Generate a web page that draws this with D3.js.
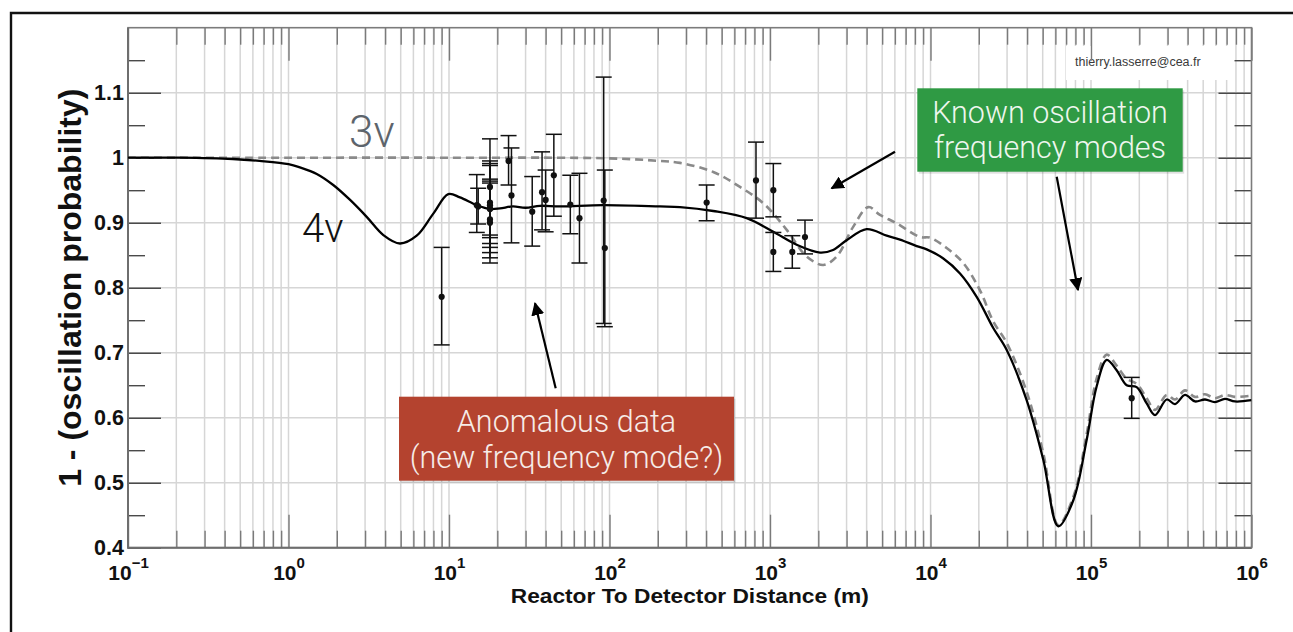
<!DOCTYPE html>
<html><head><meta charset="utf-8">
<script src="https://cdn.jsdelivr.net/npm/d3@7"></script>
<style>
html,body{margin:0;padding:0;background:#fff;}
svg{display:block;}
</style></head><body>
<svg id="chart" width="1293" height="632"></svg>
<script>
// ---------------- data ----------------
const curve4Distance = [0.1,0.21,0.45,0.66,1.0,1.18,1.5,1.9,2.42,3.07,3.9,4.95,6.29,7.98,9.9,11.7,14.9,18.0,20.8,25.0,30,36.9,49.2,91,206,275,443,716,1049,1467,2049,2470,3004,4000,5333,6457,8200,9469,12020,15270,19400,24600,29850,39720,50470,62540,77600,94000,108400,125300,144500,166800,192600,222300,250500,296300,333600,385300,444600,513000,591600,683400,788700,1000000];
const curve4Value    = [1.000,1.000,0.998,0.995,0.990,0.985,0.975,0.958,0.935,0.909,0.881,0.868,0.880,0.914,0.944,0.939,0.927,0.921,0.922,0.925,0.923,0.926,0.925,0.927,0.925,0.924,0.918,0.907,0.886,0.866,0.854,0.858,0.873,0.890,0.880,0.874,0.864,0.859,0.845,0.822,0.786,0.738,0.704,0.627,0.535,0.433,0.473,0.566,0.648,0.689,0.673,0.650,0.647,0.622,0.604,0.628,0.621,0.635,0.625,0.628,0.624,0.629,0.625,0.627];
const curve3Distance = [0.1,1,10,100,206,275,443,650,908,1271,1693,2148,2604,3304,4098,4845,6153,8605,9930,12610,16000,20330,24600,29850,39720,50470,62540,77600,94000,108400,125300,144500,166800,192600,222300,250500,296300,333600,385300,444600,513000,591600,683400,788700,1000000];
const curve3Value    = [1.000,1.000,1.000,0.999,0.995,0.992,0.978,0.955,0.930,0.889,0.848,0.835,0.848,0.894,0.924,0.912,0.899,0.878,0.877,0.861,0.838,0.796,0.748,0.715,0.640,0.545,0.435,0.478,0.575,0.660,0.697,0.680,0.660,0.652,0.630,0.612,0.635,0.628,0.642,0.632,0.636,0.630,0.635,0.632,0.634];

const dataDistance = [9.0,14.9,15.2,18.0,18.0,18.0,18.0,18.0,18.0,18.0,23.5,24.5,33,38,40,45,57,65,92,93.5,403,818,1049,1049,1377,1652,179300];
const dataValue    = [0.786,0.927,0.925,0.955,0.931,0.927,0.921,0.922,0.905,0.900,0.995,0.942,0.917,0.947,0.935,0.973,0.928,0.907,0.934,0.861,0.931,0.965,0.950,0.855,0.855,0.878,0.630];
const dataHigh     = [0.862,0.974,0.953,1.029,0.995,0.991,0.988,0.967,0.964,0.961,1.034,1.015,0.971,1.009,0.981,1.036,0.973,0.976,1.124,0.981,0.958,1.024,0.991,0.885,0.880,0.904,0.662];
const dataLow      = [0.712,0.885,0.898,0.881,0.868,0.862,0.854,0.877,0.846,0.838,0.958,0.869,0.864,0.889,0.886,0.910,0.883,0.838,0.745,0.740,0.903,0.907,0.909,0.825,0.830,0.852,0.599];

const yMajorTicks = [0.4,0.5,0.6,0.7,0.8,0.9,1,1.1];
const yMinorTicks = [0.45,0.55,0.65,0.75,0.85,0.95,1.05,1.15];
const yTickLabels = ["0.4","0.5","0.6","0.7","0.8","0.9","1","1.1"];
const xMajorTicks = [0.1,1,10,100,1000,10000,100000,1000000];
const xTickBase = "10";
const xTickExponents = ["\u22121","0","1","2","3","4","5","6"];

const xTitle = "Reactor To Detector Distance (m)";
const yTitle = "1 - (oscillation probability)";

// ---------------- chart ----------------
const svg = d3.select("#chart");
const W = 1293, H = 632;
const pL = 128, pR = 1251.5, pT = 27.7, pB = 547.7;
const x = d3.scaleLog().domain([0.1, 1e6]).range([pL, pR]);
const y = d3.scaleLinear().domain([0.4, 1.2]).range([pB, pT]);

svg.append("rect").attr("width", W).attr("height", H).attr("fill", "#fff");

// outer slide frame
svg.append("path").attr("d", `M11,${H} L11,13 L${W},13`).attr("fill", "none")
  .attr("stroke", "#111").attr("stroke-width", 2.4);

const allX = x.ticks();
const xMinor = allX.filter(d => !xMajorTicks.some(m => Math.abs(m - d) / m < 1e-9));

// grid
const grid = svg.append("g").attr("stroke", "#d6d6d6").attr("stroke-width", 1.5);
grid.selectAll("line.v").data(allX.filter(d => d > 0.1 * 1.0001 && d < 1e6 * 0.9999)).join("line").attr("class", "v")
  .attr("x1", d => x(d)).attr("x2", d => x(d)).attr("y1", pT).attr("y2", pB);
grid.selectAll("line.h").data(yMajorTicks.filter(d => d > 0.4)).join("line").attr("class", "h")
  .attr("x1", pL).attr("x2", pR).attr("y1", d => y(d)).attr("y2", d => y(d));

// email label box
svg.append("rect").attr("x", 1066).attr("y", 46).attr("width", 166).attr("height", 34).attr("fill", "#fff");
svg.append("text").attr("x", 1075).attr("y", 65.5).text("thierry.lasserre@cea.fr")
  .attr("font-family", "'Liberation Sans', Arial, sans-serif").attr("font-size", 12.5).attr("fill", "#3a3a3a");

// axes
function clean(g, color, width) {
  g.select(".domain").remove();
  g.selectAll(".tick line").attr("stroke", color).attr("stroke-width", width);
}
const xTickColor = "#7a7a7a", yTickColor = "#4a4a4a";
svg.append("g").attr("transform", `translate(0,${pB})`)
  .call(d3.axisBottom(x).tickValues(xMinor).tickSize(-17).tickSizeOuter(0).tickFormat(""))
  .call(g => clean(g, xTickColor, 1.4));
svg.append("g").attr("transform", `translate(0,${pT})`)
  .call(d3.axisTop(x).tickValues(xMinor).tickSize(-17).tickSizeOuter(0).tickFormat(""))
  .call(g => clean(g, xTickColor, 1.4));
svg.append("g").attr("transform", `translate(0,${pT})`)
  .call(d3.axisTop(x).tickValues(xMajorTicks).tickSize(-33).tickSizeOuter(0).tickFormat(""))
  .call(g => clean(g, xTickColor, 1.4));
const xMajAxis = svg.append("g").attr("transform", `translate(0,${pB})`)
  .call(d3.axisBottom(x).tickValues(xMajorTicks).tickSize(-33).tickSizeOuter(0).tickFormat(() => xTickBase))
  .call(g => clean(g, xTickColor, 1.4));
xMajAxis.selectAll(".tick text")
  .attr("y", 32).attr("dy", 0).attr("fill", "#111")
  .attr("font-family", "'Liberation Sans', Arial, sans-serif").attr("font-weight", "bold").attr("font-size", 21)
  .each(function(d, i) {
    d3.select(this).append("tspan").attr("dy", -12).attr("font-size", 15).text(xTickExponents[i]);
  });

svg.append("g").attr("transform", `translate(${pL},0)`)
  .call(d3.axisLeft(y).tickValues(yMinorTicks).tickSize(-17).tickSizeOuter(0).tickFormat(""))
  .call(g => clean(g, yTickColor, 1.4));
svg.append("g").attr("transform", `translate(${pR},0)`)
  .call(d3.axisRight(y).tickValues(yMinorTicks).tickSize(-17).tickSizeOuter(0).tickFormat(""))
  .call(g => clean(g, yTickColor, 1.4));
svg.append("g").attr("transform", `translate(${pR},0)`)
  .call(d3.axisRight(y).tickValues(yMajorTicks).tickSize(-33).tickSizeOuter(0).tickFormat(""))
  .call(g => clean(g, yTickColor, 1.4));
const yMajAxis = svg.append("g").attr("transform", `translate(${pL},0)`)
  .call(d3.axisLeft(y).tickValues(yMajorTicks).tickSize(-33).tickSizeOuter(0).tickPadding(4)
    .tickFormat((d, i) => yTickLabels[i]))
  .call(g => clean(g, yTickColor, 1.4));
yMajAxis.selectAll(".tick text").attr("fill", "#111")
  .attr("font-family", "'Liberation Sans', Arial, sans-serif").attr("font-weight", "bold").attr("font-size", 21.5);

// plot frame
svg.append("rect").attr("x", pL).attr("y", pT).attr("width", pR - pL).attr("height", pB - pT)
  .attr("fill", "none").attr("stroke", "#7c7c7c").attr("stroke-width", 1.6);
svg.append("path").attr("d", `M${pL},${pT} L${pL},${pB} L${pR},${pB}`)
  .attr("fill", "none").attr("stroke", "#6e6e6e").attr("stroke-width", 2);

// titles
svg.append("text").attr("x", (pL + pR) / 2).attr("y", 602.7).attr("text-anchor", "middle")
  .attr("font-family", "'Liberation Sans', Arial, sans-serif").attr("font-weight", "bold").attr("font-size", 20)
  .attr("textLength", 358).attr("lengthAdjust", "spacingAndGlyphs").attr("fill", "#111").text(xTitle);
svg.append("text").attr("transform", `translate(81,${(pT + pB) / 2}) rotate(-90)`).attr("text-anchor", "middle")
  .attr("font-family", "'Liberation Sans', Arial, sans-serif").attr("font-weight", "bold").attr("font-size", 32)
  .attr("fill", "#111").text(yTitle);

// curves
svg.append("defs").append("clipPath").attr("id", "plotclip").append("rect")
  .attr("x", pL).attr("y", pT).attr("width", pR - pL).attr("height", pB - pT);
const line = d3.line().x(d => x(d[0])).y(d => y(d[1])).curve(d3.curveCatmullRom.alpha(0.5));
const c3 = curve3Distance.map((d, i) => [d, curve3Value[i]]);
const c4 = curve4Distance.map((d, i) => [d, curve4Value[i]]);
const curves = svg.append("g").attr("clip-path", "url(#plotclip)");
curves.append("path").datum(c3).attr("d", line).attr("fill", "none")
  .attr("stroke", "#8a8a8a").attr("stroke-width", 2.6).attr("stroke-dasharray", "8,5");
curves.append("path").datum(c4).attr("d", line).attr("fill", "none")
  .attr("stroke", "#000").attr("stroke-width", 2.3).attr("stroke-linejoin", "round");

// data points with error bars
const pts = dataDistance.map((d, i) => ({L: d, v: dataValue[i], hi: dataHigh[i], lo: dataLow[i]}));
const eb = svg.append("g").attr("stroke", "#111").attr("stroke-width", 1.5);
const cap = 8;
eb.selectAll("line.bar").data(pts).join("line").attr("class", "bar")
  .attr("x1", d => x(d.L)).attr("x2", d => x(d.L)).attr("y1", d => y(d.hi)).attr("y2", d => y(d.lo));
eb.selectAll("line.tp").data(pts).join("line").attr("class", "tp")
  .attr("x1", d => x(d.L) - cap).attr("x2", d => x(d.L) + cap).attr("y1", d => y(d.hi)).attr("y2", d => y(d.hi));
eb.selectAll("line.bt").data(pts).join("line").attr("class", "bt")
  .attr("x1", d => x(d.L) - cap).attr("x2", d => x(d.L) + cap).attr("y1", d => y(d.lo)).attr("y2", d => y(d.lo));
svg.append("g").selectAll("circle").data(pts).join("circle")
  .attr("cx", d => x(d.L)).attr("cy", d => y(d.v)).attr("r", 3.1).attr("fill", "#111");

// labels 3v / 4v
const lightFont = "'Helvetica Neue', Roboto, 'Open Sans', sans-serif";
svg.append("text").attr("x", 349).attr("y", 147).attr("font-family", lightFont).attr("font-weight", 300)
  .attr("font-size", 44).attr("fill", "#5d646b").text("3\u03bd");
svg.append("text").attr("x", 302).attr("y", 242).attr("font-family", lightFont).attr("font-weight", 300)
  .attr("font-size", 40).attr("fill", "#111").text("4\u03bd");

// arrows
svg.append("defs").append("marker").attr("id", "ah").attr("viewBox", "0 0 10 10").attr("refX", 9).attr("refY", 5)
  .attr("markerWidth", 6).attr("markerHeight", 6).attr("markerUnits", "strokeWidth").attr("orient", "auto")
  .append("path").attr("d", "M0,0 L10,5 L0,10 z").attr("fill", "#000");
const arrows = [[555.7, 388.3, 535, 303.3], [895, 151.7, 831.7, 188.3], [1056.7, 176.7, 1078, 290]];
svg.append("g").selectAll("line").data(arrows).join("line")
  .attr("x1", d => d[0]).attr("y1", d => d[1]).attr("x2", d => d[2]).attr("y2", d => d[3])
  .attr("stroke", "#000").attr("stroke-width", 2.2).attr("marker-end", "url(#ah)");

// annotation boxes
function box(x0, y0, w, h, fill, lines, baselines, textFill) {
  svg.append("rect").attr("x", x0 + 1.5).attr("y", y0 + 2).attr("width", w).attr("height", h).attr("fill", "rgba(0,0,0,0.12)");
  svg.append("rect").attr("x", x0).attr("y", y0).attr("width", w).attr("height", h).attr("fill", fill);
  lines.forEach((t, i) => {
    svg.append("text").attr("x", x0 + w / 2).attr("y", baselines[i]).attr("text-anchor", "middle")
      .attr("font-family", lightFont).attr("font-weight", 300).attr("font-size", 30.5)
      .attr("fill", textFill).text(t);
  });
}
box(917.3, 88.3, 265.4, 83.4, "#2f9a44", ["Known oscillation", "frequency modes"], [123, 158.3], "#eef6ee");
box(399, 396.7, 335, 84, "#b4432f", ["Anomalous data", "(new frequency mode?)"], [432, 468.3], "#f6ece8");
</script>
</body></html>
